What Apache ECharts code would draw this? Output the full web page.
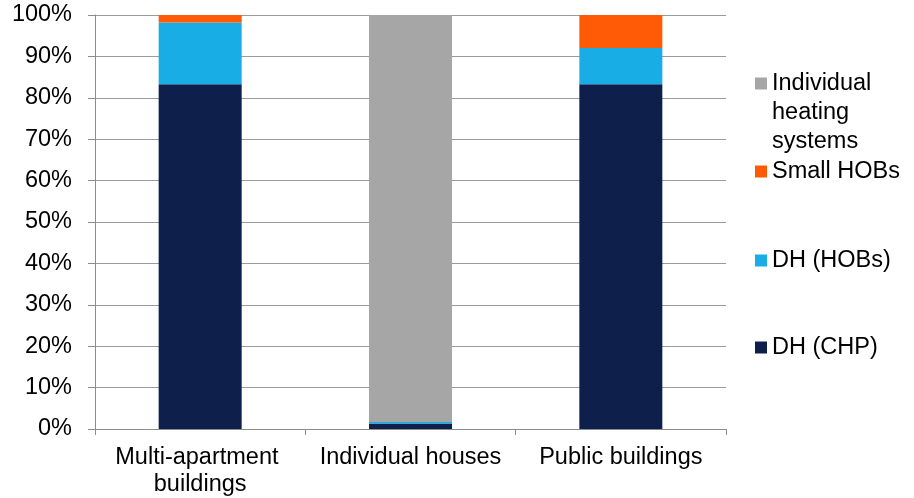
<!DOCTYPE html>
<html>
<head>
<meta charset="utf-8">
<script src="https://cdn.jsdelivr.net/npm/echarts@6/dist/echarts.min.js"></script>
<style>
html,body{margin:0;padding:0;background:#fff;}
#chart{width:914px;height:498px;}
</style>
</head>
<body>
<div id="chart"></div>
<script>
var categories = ['Multi-apartment buildings', 'Individual houses', 'Public buildings'];
var dhChp = [83.3, 1.3, 83.3];
var dhHobs = [14.9, 0.4, 8.7];
var smallHobs = [1.8, 0, 8.0];
var individualHeating = [0, 98.3, 0];
var yTicks = [0, 10, 20, 30, 40, 50, 60, 70, 80, 90, 100];

var FONT = 'Liberation Sans, Arial, sans-serif';
var FS = 23.5;
var AXIS = '#8c8c8c';

var colors = {
  'DH (CHP)': '#0e1f4b',
  'DH (HOBs)': '#19ade6',
  'Small HOBs': '#ff5a05',
  'Individual heating systems': '#a6a6a6'
};

function mkSeries(name, data) {
  return {
    name: name, type: 'bar', stack: 'total', data: data,
    barWidth: 83,
    itemStyle: { color: colors[name] },
    emphasis: { disabled: true }
  };
}

function mkLegend(name, top, formatter) {
  var l = {
    data: [name], left: 755, top: top, padding: 0,
    itemWidth: 12, itemHeight: 12, icon: 'rect', selectedMode: false,
    textStyle: { fontFamily: FONT, fontSize: FS, color: '#000', lineHeight: 29 }
  };
  if (formatter) l.formatter = formatter;
  return l;
}

var chart = echarts.init(document.getElementById('chart'), null, { renderer: 'canvas' });
chart.setOption({
  animation: false,
  backgroundColor: '#fff',
  grid: { left: 95, right: 188, top: 15, bottom: 65, containLabel: false },
  legend: [
    mkLegend('Individual heating systems', 11, function (n) { return '\n\n' + n.split(' ').join('\n'); }),
    mkLegend('Small HOBs', 157),
    mkLegend('DH (HOBs)', 246),
    mkLegend('DH (CHP)', 333)
  ],
  xAxis: {
    type: 'category', data: categories, boundaryGap: true,
    axisLine: { lineStyle: { color: AXIS, width: 1 } },
    axisTick: { show: true, length: 6, alignWithLabel: false, lineStyle: { color: AXIS } },
    axisLabel: {
      fontFamily: FONT, fontSize: FS, color: '#000', margin: 15, lineHeight: 27,
      width: 200, overflow: 'break', interval: 0
    }
  },
  yAxis: {
    type: 'value', min: yTicks[0], max: yTicks[yTicks.length - 1], interval: 10,
    axisLine: { show: true, lineStyle: { color: AXIS, width: 1 } },
    axisTick: { show: true, length: 7, inside: false, lineStyle: { color: AXIS } },
    splitLine: { show: true, lineStyle: { color: '#9a9a9a', width: 1 } },
    axisLabel: { fontFamily: FONT, fontSize: FS, color: '#000', margin: 23, formatter: '{value}%' }
  },
  series: [
    mkSeries('DH (CHP)', dhChp),
    mkSeries('DH (HOBs)', dhHobs),
    mkSeries('Small HOBs', smallHobs),
    mkSeries('Individual heating systems', individualHeating)
  ]
});
</script>
</body>
</html>
